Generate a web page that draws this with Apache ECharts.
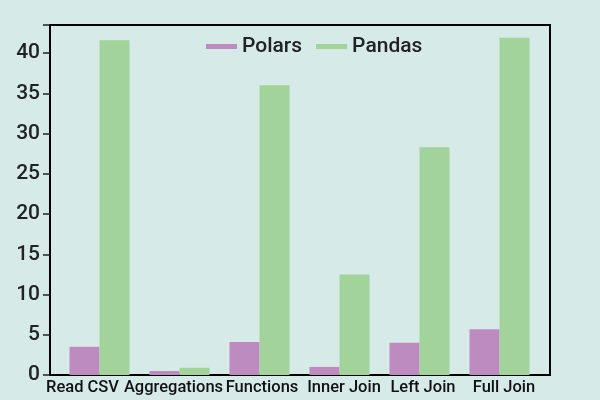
<!DOCTYPE html>
<html>
<head>
<meta charset="utf-8">
<script src="https://cdn.jsdelivr.net/npm/echarts@6/dist/echarts.min.js"></script>
<style>
html,body{margin:0;padding:0;background:#d6eae8;}
#chart{width:600px;height:400px;}
</style>
</head>
<body>
<div id="chart"></div>
<script>
var categories = ['Read CSV', 'Aggregations', 'Functions', 'Inner Join', 'Left Join', 'Full Join'];
var polars = [3.5, 0.5, 4.1, 1.0, 4.0, 5.7];
var pandas = [41.6, 0.9, 36.0, 12.5, 28.3, 41.9];
var seriesNames = ['Polars', 'Pandas'];

// layout: horizontal nudge of each category label (px)
var labelShift = [-17, -6, 2.5, 4.5, 3.5, 4.5];

var chart = echarts.init(document.getElementById('chart'));
var txt = '#222';
var rich = {};
labelShift.forEach(function(d, i){
  rich['s' + i] = {fontSize: 16.5, fontWeight: 500, color: '#111', fontFamily: 'Roboto',
    padding: d < 0 ? [0, -2 * d, 0, 0] : [0, 0, 0, 2 * d]};
});
chart.setOption({
  backgroundColor: '#d6eae8',
  animation: false,
  textStyle: {fontFamily: 'Roboto'},
  legend: {
    data: seriesNames,
    left: 206, top: 36, padding: 0,
    itemWidth: 31, itemHeight: 5, itemGap: 14,
    icon: 'rect',
    textStyle: {fontSize: 21, color: txt, fontFamily: 'Roboto', fontWeight: 500}
  },
  grid: [
    {left: 50, right: 50, top: 25, bottom: 25, show: true, borderColor: '#000', borderWidth: 2, backgroundColor: 'transparent'},
    {left: 59.5, right: 60.5, top: 25, bottom: 25}
  ],
  xAxis: [
    {gridIndex: 0, type: 'value', show: false},
    {gridIndex: 1, type: 'category', data: categories,
     axisLine: {show: false}, axisTick: {show: false},
     axisLabel: {interval: 0, hideOverlap: false, margin: 4, rich: rich,
       formatter: function(v, i){ return '{s' + i + '|' + v + '}'; }}}
  ],
  yAxis: [
    {gridIndex: 0, type: 'value', min: 0, max: 43.5, interval: 5,
     splitLine: {show: false},
     axisLine: {show: true, lineStyle: {color: '#000', width: 2}},
     axisTick: {show: true, inside: false, length: 7, lineStyle: {color: txt, width: 1.5}},
     axisLabel: {fontSize: 21, fontWeight: 500, color: txt, margin: 10, fontFamily: 'Roboto',
       formatter: function(v){ return v <= 40 ? String(v) : ''; }}},
    {gridIndex: 1, type: 'value', min: 0, max: 43.5, show: false, splitLine: {show: false}}
  ],
  series: [
    {name: seriesNames[0], type: 'bar', xAxisIndex: 1, yAxisIndex: 1, data: polars,
     barWidth: 30, barGap: '0%', itemStyle: {color: '#be8bc0'}},
    {name: seriesNames[1], type: 'bar', xAxisIndex: 1, yAxisIndex: 1, data: pandas,
     barWidth: 30, barGap: '0%', itemStyle: {color: '#a1d39b'}}
  ]
});
</script>
</body>
</html>
